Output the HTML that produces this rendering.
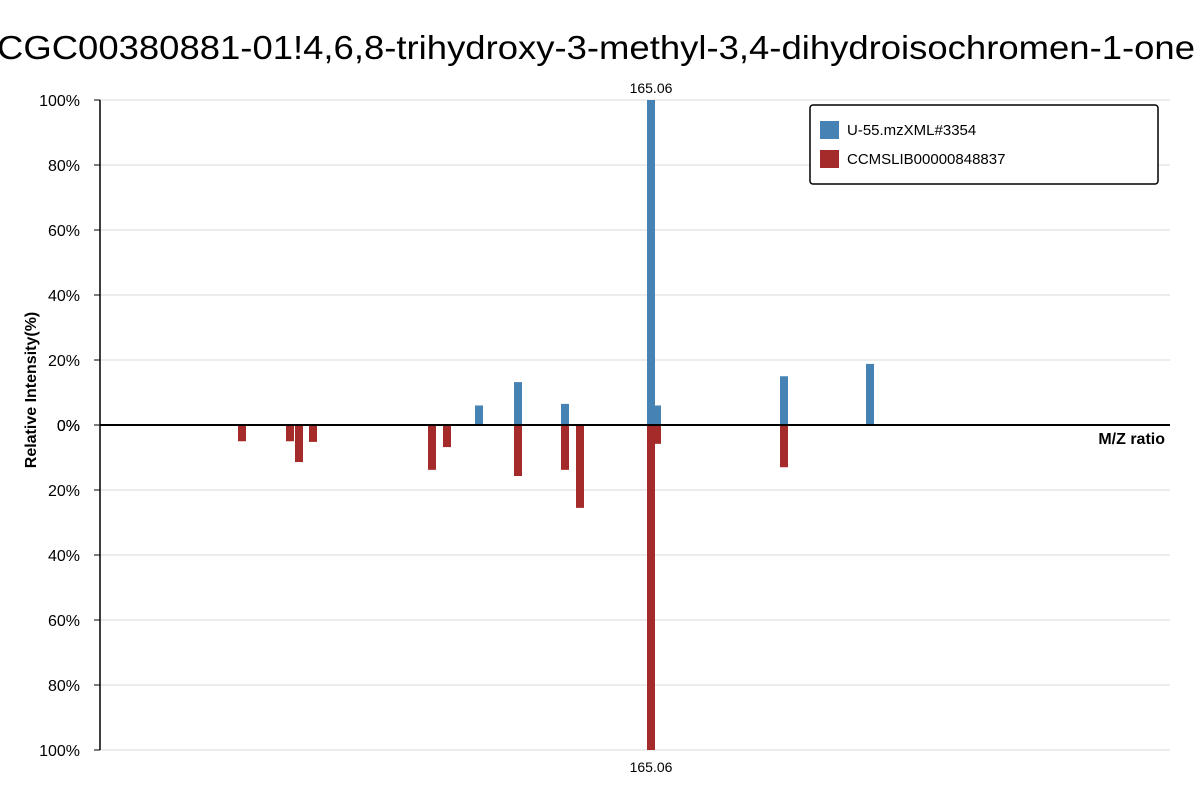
<!DOCTYPE html>
<html><head><meta charset="utf-8"><style>
body{margin:0;background:#fff;}
svg{display:block;font-family:"Liberation Sans",sans-serif;}
</style></head><body>
<svg id="chart" width="1200" height="800">
<text x="596" y="59" text-anchor="middle" font-size="33" textLength="1198" lengthAdjust="spacingAndGlyphs" fill="#000">CGC00380881-01!4,6,8-trihydroxy-3-methyl-3,4-dihydroisochromen-1-one</text>
<g id="grid"></g><g id="bars"></g><g id="axes"></g>
<text transform="translate(36,390) rotate(-90)" text-anchor="middle" font-size="16" font-weight="bold">Relative Intensity(%)</text>
<text x="1165" y="444" text-anchor="end" font-size="16" font-weight="bold">M/Z ratio</text>
<g>
<rect x="810" y="105" width="348" height="79" rx="3" fill="#fff" stroke="#000" stroke-width="1.5"/>
<rect x="820" y="121" width="19" height="18" fill="#4682b4"/>
<text x="847" y="135" font-size="15">U-55.mzXML#3354</text>
<rect x="820" y="150" width="19" height="18" fill="#a52a2a"/>
<text x="847" y="164" font-size="15">CCMSLIB00000848837</text>
</g>
</svg>
<script>
const topMz=[122.06,131.81,143.56,165.06,166.56,198.31,219.81];
const topInt=[6,13.2,6.5,100,6,15,18.8];
const botMz=[62.81,74.81,77.06,80.56,110.31,114.06,131.81,143.56,147.31,165.06,166.56,198.31];
const botInt=[5,5,11.4,5.2,13.8,6.8,15.7,13.8,25.5,100,5.8,13];
const yTicks=[0,20,40,60,80,100];
const peakLabel="165.06";
const NS="http://www.w3.org/2000/svg";
const x0=100,x1=1170,mzMin=27.31,mzMax=294.81,y0=425,k=3.25;
const xs=m=>x0+(m-mzMin)/(mzMax-mzMin)*(x1-x0);
const yUp=v=>y0-v*k, yDn=v=>y0+v*k;
function mk(tag,a,p){const e=document.createElementNS(NS,tag);for(const q in a)e.setAttribute(q,a[q]);p.appendChild(e);return e;}
const g=document.getElementById('grid'),b=document.getElementById('bars'),ax=document.getElementById('axes');
yTicks.forEach(t=>{[yUp(t),yDn(t)].forEach(y=>{
 if(t>0){const l=mk('line',{x1:x0,x2:x1,y1:y,y2:y,stroke:'#d8d8d8','stroke-width':1},g);
 
 }
 mk('line',{x1:x0-6,x2:x0,y1:y,y2:y,stroke:'#000'},ax);
 const tx=mk('text',{x:x0-20,y:y+6,'text-anchor':'end','font-size':16},ax);tx.textContent=t+'%';
 
 
});});
topMz.forEach((m,i)=>{const r=mk('rect',{x:xs(m)-4,y:yUp(topInt[i]),width:8,height:topInt[i]*k,fill:'#4682b4'},b);
 
 });
botMz.forEach((m,i)=>{const r=mk('rect',{x:xs(m)-4,y:y0,width:8,height:botInt[i]*k,fill:'#a52a2a'},b);
 
 });
const it=topInt.indexOf(Math.max(...topInt)),ib=botInt.indexOf(Math.max(...botInt));
const l1=mk('text',{x:xs(topMz[it]),y:yUp(topInt[it])-7,'text-anchor':'middle','font-size':14},ax);l1.textContent=peakLabel;


const l2=mk('text',{x:xs(botMz[ib]),y:yDn(botInt[ib])+22,'text-anchor':'middle','font-size':14},ax);l2.textContent=peakLabel;


mk('line',{x1:x0,x2:x0,y1:yUp(100),y2:yDn(100),stroke:'#000','stroke-width':1.5},ax);
mk('line',{x1:x0,x2:x1,y1:y0,y2:y0,stroke:'#000','stroke-width':2},ax);
</script>
</body></html>
